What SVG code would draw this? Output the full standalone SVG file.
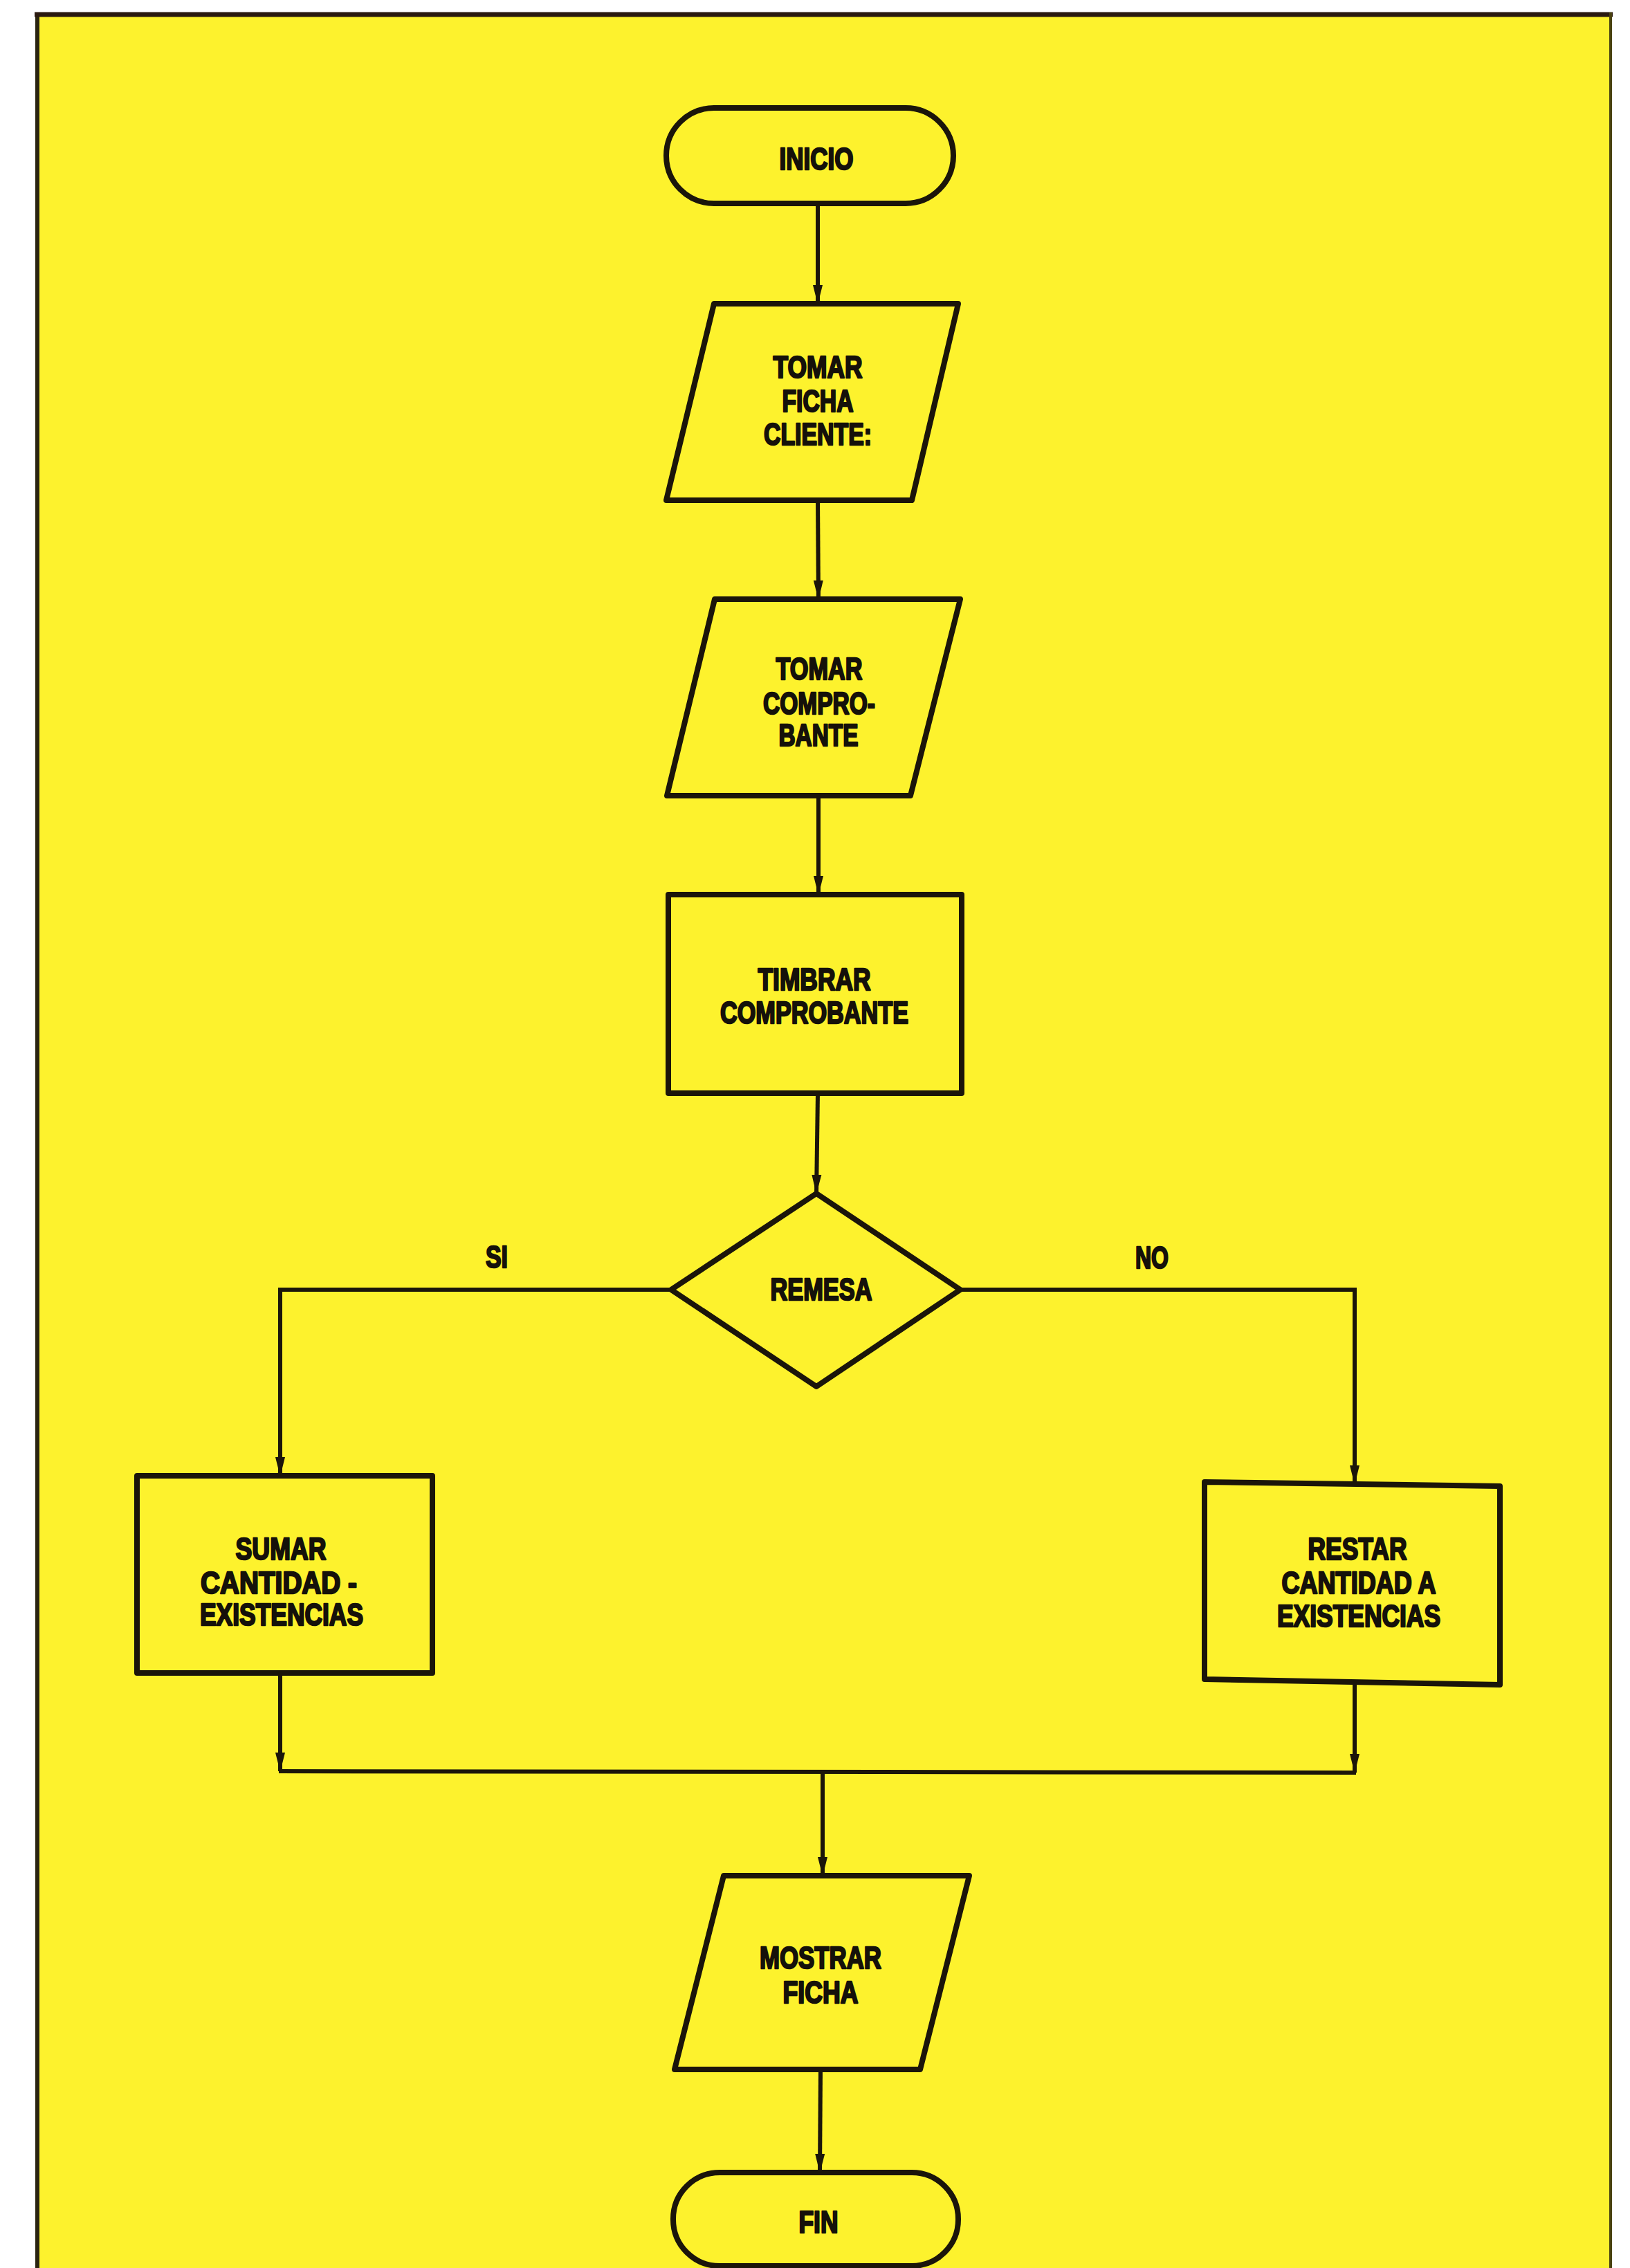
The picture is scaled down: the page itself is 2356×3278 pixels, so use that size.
<svg xmlns="http://www.w3.org/2000/svg" width="2356" height="3278" viewBox="0 0 2356 3278">
<defs>
<style>
.node{fill:none;stroke:#1b150a;stroke-width:8;stroke-linejoin:round}
.conn{fill:none;stroke:#1b150a;stroke-width:6}
.t{font-family:"Liberation Sans",Arial,sans-serif;font-weight:bold;font-size:44px;fill:#15110a;stroke:#15110a;stroke-width:2.5;stroke-linejoin:round;text-anchor:middle}
</style>
<marker id="ah" markerUnits="userSpaceOnUse" markerWidth="28" markerHeight="18" viewBox="0 0 28 18" refX="27" refY="9" orient="auto">
<path d="M0,2 L28,9 L0,16 z" fill="#1b150a"/>
</marker>
</defs>
<rect x="0" y="0" width="2356" height="3278" fill="#ffffff"/>
<g id="frame">
<rect x="54" y="21" width="2274" height="3257" fill="#fdf22d"/>
<line x1="54" y1="18" x2="54" y2="3278" stroke="#2a2410" stroke-width="6"/>
<line x1="50" y1="21" x2="2331" y2="21" stroke="#2b1a10" stroke-width="7"/>
<line x1="2328" y1="18" x2="2328" y2="3278" stroke="#4a4210" stroke-width="4"/>
</g>
<g id="connectors">
<line class="conn" x1="1182" y1="294" x2="1182" y2="439" marker-end="url(#ah)"/>
<line class="conn" x1="1182" y1="723" x2="1183" y2="866" marker-end="url(#ah)"/>
<line class="conn" x1="1183" y1="1150" x2="1183" y2="1293" marker-end="url(#ah)"/>
<line class="conn" x1="1182" y1="1580" x2="1180" y2="1725" marker-end="url(#ah)"/>
<polyline class="conn" points="970,1864 405,1864 405,2133" marker-end="url(#ah)"/>
<polyline class="conn" points="1388,1864 1958,1864 1958,2145" marker-end="url(#ah)"/>
<line class="conn" x1="405" y1="2418" x2="405" y2="2560" marker-end="url(#ah)"/>
<line class="conn" x1="1958" y1="2432" x2="1958" y2="2562" marker-end="url(#ah)"/>
<line class="conn" x1="403" y1="2560" x2="1960" y2="2562"/>
<line class="conn" x1="1189" y1="2561" x2="1189" y2="2711" marker-end="url(#ah)"/>
<line class="conn" x1="1186" y1="2991" x2="1185" y2="3140" marker-end="url(#ah)"/>
<text class="t" x="718" y="1832" textLength="32" lengthAdjust="spacingAndGlyphs">SI</text>
<text class="t" x="1665" y="1833" textLength="48" lengthAdjust="spacingAndGlyphs">NO</text>
</g>
<g id="inicio">
<rect class="node" x="963" y="156" width="415" height="138" rx="69" ry="69"/>
<text class="t" x="1180" y="245" textLength="107" lengthAdjust="spacingAndGlyphs">INICIO</text>
</g>
<g id="tomar-ficha">
<polygon class="node" points="1032,439 1385,439 1318,723 963,723"/>
<text class="t" x="1182" y="546" textLength="129" lengthAdjust="spacingAndGlyphs">TOMAR</text>
<text class="t" x="1182" y="595" textLength="103" lengthAdjust="spacingAndGlyphs">FICHA</text>
<text class="t" x="1182" y="643" textLength="156" lengthAdjust="spacingAndGlyphs">CLIENTE:</text>
</g>
<g id="tomar-comprobante">
<polygon class="node" points="1033,866 1388,866 1316,1150 964,1150"/>
<text class="t" x="1184" y="982" textLength="125" lengthAdjust="spacingAndGlyphs">TOMAR</text>
<text class="t" x="1184" y="1032" textLength="162" lengthAdjust="spacingAndGlyphs">COMPRO-</text>
<text class="t" x="1183" y="1078" textLength="115" lengthAdjust="spacingAndGlyphs">BANTE</text>
</g>
<g id="timbrar">
<rect class="node" x="966" y="1293" width="424" height="287"/>
<text class="t" x="1177" y="1431" textLength="163" lengthAdjust="spacingAndGlyphs">TIMBRAR</text>
<text class="t" x="1177" y="1479" textLength="272" lengthAdjust="spacingAndGlyphs">COMPROBANTE</text>
</g>
<g id="remesa">
<polygon class="node" points="1180,1725 1388,1864 1180,2004 970,1864"/>
<text class="t" x="1187" y="1879" textLength="147" lengthAdjust="spacingAndGlyphs">REMESA</text>
</g>
<g id="sumar">
<rect class="node" x="198" y="2133" width="427" height="285"/>
<text class="t" x="406" y="2254" textLength="131" lengthAdjust="spacingAndGlyphs">SUMAR</text>
<text class="t" x="403" y="2303" textLength="226" lengthAdjust="spacingAndGlyphs">CANTIDAD -</text>
<text class="t" x="407" y="2349" textLength="236" lengthAdjust="spacingAndGlyphs">EXISTENCIAS</text>
</g>
<g id="restar">
<polygon class="node" points="1741,2142 2168,2148 2168,2435 1741,2427"/>
<text class="t" x="1962" y="2254" textLength="143" lengthAdjust="spacingAndGlyphs">RESTAR</text>
<text class="t" x="1964" y="2303" textLength="223" lengthAdjust="spacingAndGlyphs">CANTIDAD A</text>
<text class="t" x="1964" y="2351" textLength="236" lengthAdjust="spacingAndGlyphs">EXISTENCIAS</text>
</g>
<g id="mostrar">
<polygon class="node" points="1046,2711 1401,2711 1330,2991 975,2991"/>
<text class="t" x="1186" y="2845" textLength="176" lengthAdjust="spacingAndGlyphs">MOSTRAR</text>
<text class="t" x="1186" y="2895" textLength="109" lengthAdjust="spacingAndGlyphs">FICHA</text>
</g>
<g id="fin">
<rect class="node" x="973" y="3140" width="412" height="135" rx="67" ry="67"/>
<text class="t" x="1183" y="3227" textLength="57" lengthAdjust="spacingAndGlyphs">FIN</text>
</g>
</svg>
